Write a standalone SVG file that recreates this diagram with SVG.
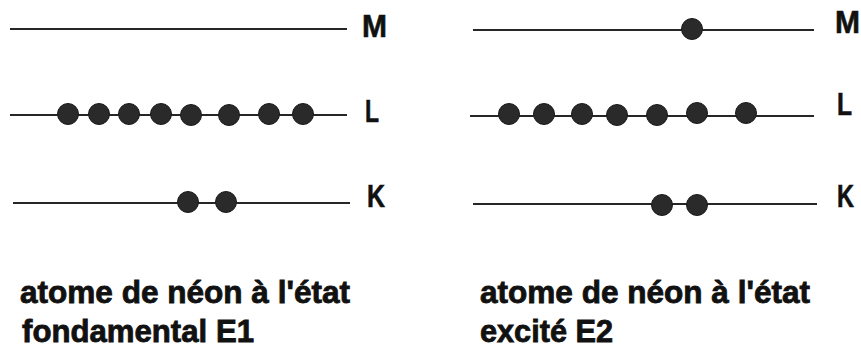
<svg xmlns="http://www.w3.org/2000/svg" width="861" height="350" viewBox="0 0 861 350">
<style>
.lvl{stroke:#262626;stroke-width:2.2;fill:none}
.e{fill:#2a2a2a;stroke:#1a1a1a;stroke-width:1}
.lab{font-family:"Liberation Sans",Arial,sans-serif;font-weight:bold;font-size:31px;fill:#111;stroke:#111;stroke-width:0.6}
.cap{font-family:"Liberation Sans",Arial,sans-serif;font-weight:bold;font-size:27px;fill:#111;stroke:#111;stroke-width:0.7}
</style>
<rect width="861" height="350" fill="#fff"/>
<g id="ground">
  <g id="ground-M">
    <line class="lvl" x1="10" y1="29" x2="347" y2="29"/>
    <text class="lab" x="362" y="37" textLength="25" lengthAdjust="spacingAndGlyphs">M</text>
  </g>
  <g id="ground-L">
    <line class="lvl" x1="10" y1="115" x2="347" y2="115"/>
    <circle class="e" cx="68" cy="114" r="10.5"/>
    <circle class="e" cx="99" cy="114" r="10.5"/>
    <circle class="e" cx="129" cy="114" r="10.5"/>
    <circle class="e" cx="161" cy="114" r="10.5"/>
    <circle class="e" cx="191" cy="115" r="10.5"/>
    <circle class="e" cx="229" cy="115" r="10.5"/>
    <circle class="e" cx="269" cy="114" r="10.5"/>
    <circle class="e" cx="303" cy="114" r="10.5"/>
    <text class="lab" x="365" y="122" textLength="14" lengthAdjust="spacingAndGlyphs">L</text>
  </g>
  <g id="ground-K">
    <line class="lvl" x1="13" y1="203" x2="350" y2="203"/>
    <circle class="e" cx="188" cy="202" r="10.5"/>
    <circle class="e" cx="226" cy="202" r="10.5"/>
    <text class="lab" x="367" y="207" textLength="18" lengthAdjust="spacingAndGlyphs">K</text>
  </g>
  <g id="ground-caption">
    <text class="cap" transform="translate(20,303) scale(1,1.18)" textLength="330" lengthAdjust="spacingAndGlyphs">atome de néon à l'état</text>
    <text class="cap" transform="translate(22,342) scale(1,1.18)" textLength="232" lengthAdjust="spacingAndGlyphs">fondamental E1</text>
  </g>
</g>
<g id="excited">
  <g id="excited-M">
    <line class="lvl" x1="473" y1="30" x2="814" y2="30"/>
    <circle class="e" cx="692" cy="29" r="10.5"/>
    <text class="lab" x="835" y="33" textLength="25" lengthAdjust="spacingAndGlyphs">M</text>
  </g>
  <g id="excited-L">
    <line class="lvl" x1="470" y1="116" x2="814" y2="116"/>
    <circle class="e" cx="509" cy="114" r="10.5"/>
    <circle class="e" cx="544" cy="114" r="10.5"/>
    <circle class="e" cx="582" cy="114" r="10.5"/>
    <circle class="e" cx="617" cy="115" r="10.5"/>
    <circle class="e" cx="657" cy="115" r="10.5"/>
    <circle class="e" cx="697" cy="113" r="10.5"/>
    <circle class="e" cx="746" cy="113" r="10.5"/>
    <text class="lab" x="837" y="115" textLength="15" lengthAdjust="spacingAndGlyphs">L</text>
  </g>
  <g id="excited-K">
    <line class="lvl" x1="473" y1="204" x2="817" y2="204"/>
    <circle class="e" cx="662" cy="205" r="10.5"/>
    <circle class="e" cx="697" cy="205" r="10.5"/>
    <text class="lab" x="837" y="207" textLength="17" lengthAdjust="spacingAndGlyphs">K</text>
  </g>
  <g id="excited-caption">
    <text class="cap" transform="translate(480,303) scale(1,1.18)" textLength="330" lengthAdjust="spacingAndGlyphs">atome de néon à l'état</text>
    <text class="cap" transform="translate(480,342) scale(1,1.18)" textLength="133" lengthAdjust="spacingAndGlyphs">excité E2</text>
  </g>
</g>
</svg>
